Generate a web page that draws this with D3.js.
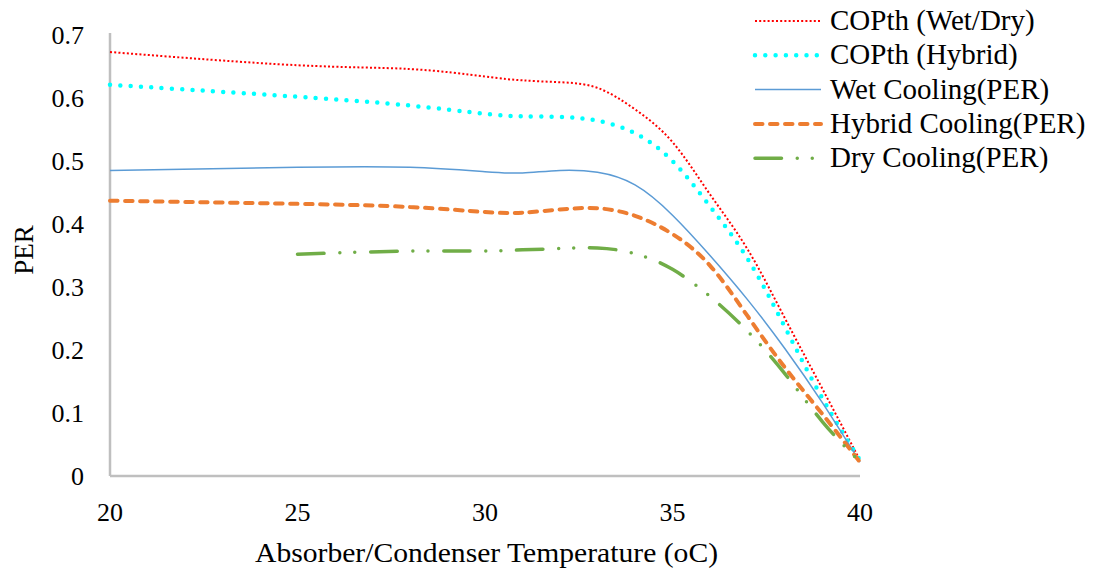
<!DOCTYPE html>
<html>
<head>
<meta charset="utf-8">
<script src="https://cdn.jsdelivr.net/npm/d3@7"></script>
<style>
  html, body { margin: 0; padding: 0; background: #fff; }
</style>
</head>
<body>
<svg id="chart" width="1100" height="569"></svg>
<script>
// Absorber/condenser temperature (°C)
const temps = [20, 25, 28, 30, 31, 32, 33, 34, 35, 36, 37, 38, 39, 40];

// Performance values per cooling configuration
const copWetDry   = [0.673, 0.652, 0.646, 0.634, 0.628, 0.625, 0.616, 0.582, 0.530, 0.447, 0.360, 0.250, 0.138, 0.025];
const copHybrid   = [0.621, 0.602, 0.588, 0.575, 0.571, 0.570, 0.564, 0.544, 0.500, 0.428, 0.345, 0.236, 0.123, 0.025];
const wetPER      = [0.485, 0.490, 0.490, 0.483, 0.481, 0.485, 0.482, 0.462, 0.414, 0.350, 0.280, 0.202, 0.116, 0.022];
const hybridPER   = [0.437, 0.432, 0.427, 0.419, 0.418, 0.423, 0.425, 0.413, 0.384, 0.334, 0.254, 0.172, 0.098, 0.022];
const dryPER      = [null,  0.352, 0.357, 0.357, 0.359, 0.361, 0.362, 0.353, 0.328, 0.285, 0.230, 0.162, 0.086, 0.022];

const seriesNames = ["COPth (Wet/Dry)", "COPth (Hybrid)", "Wet Cooling(PER)", "Hybrid Cooling(PER)", "Dry Cooling(PER)"];

const xTicks = [20, 25, 30, 35, 40];
const yTicks = [0, 0.1, 0.2, 0.3, 0.4, 0.5, 0.6, 0.7];

const series = [
  { name: seriesNames[0], values: copWetDry, color: "#ff0000", width: 2,   dash: "2 2.2",  cap: "butt" },
  { name: seriesNames[1], values: copHybrid, color: "#00ffff", width: 4.5, dash: "0 10.3", cap: "round" },
  { name: seriesNames[2], values: wetPER,    color: "#5b9bd5", width: 1.5, dash: null,     cap: "butt" },
  { name: seriesNames[3], values: hybridPER, color: "#ed7d31", width: 4,   dash: "7.5 7.5", cap: "round" },
  { name: seriesNames[4], values: dryPER,    color: "#70ad47", width: 3.5, dash: "26.5 15.75 0 15 0 15.75", cap: "round" }
];

const serif = '"Liberation Serif"';
const svg = d3.select("#chart").style("font-family", serif);

const x = d3.scaleLinear().domain([20, 40]).range([110, 860]);
const y = d3.scaleLinear().domain([0, 0.7]).range([476, 35]);

// Axis lines
svg.append("line")
  .attr("x1", x(20)).attr("x2", x(20))
  .attr("y1", y(0.7) - 2).attr("y2", y(0))
  .attr("stroke", "#bfbfbf").attr("stroke-width", 2.5);
svg.append("line")
  .attr("x1", x(20)).attr("x2", x(40))
  .attr("y1", y(0)).attr("y2", y(0))
  .attr("stroke", "#bfbfbf").attr("stroke-width", 2.5);

// Y tick labels
svg.append("g").selectAll("text")
  .data(yTicks).join("text")
  .style("font-family", serif)
  .attr("x", 84)
  .attr("y", d => y(d) + 9)
  .attr("text-anchor", "end")
  .attr("font-size", 26)
  .text(d => d3.format("")(d));

// X tick labels
svg.append("g").selectAll("text")
  .data(xTicks).join("text")
  .style("font-family", serif)
  .attr("x", d => x(d))
  .attr("y", 521)
  .attr("text-anchor", "middle")
  .attr("font-size", 26)
  .text(d => d);

// Axis titles
svg.append("text")
  .style("font-family", serif)
  .attr("x", 255).attr("y", 562)
  .attr("font-size", 28)
  .attr("textLength", 463)
  .attr("lengthAdjust", "spacingAndGlyphs")
  .text("Absorber/Condenser Temperature (oC)");

svg.append("text")
  .style("font-family", serif)
  .attr("transform", "translate(33, 250) rotate(-90)")
  .attr("text-anchor", "middle")
  .attr("font-size", 27)
  .text("PER");

// Curves
const line = d3.line()
  .defined(d => d[1] != null)
  .x(d => x(d[0]))
  .y(d => y(d[1]))
  .curve(d3.curveNatural);

svg.append("g").selectAll("path")
  .data(series).join("path")
  .attr("d", s => line(temps.map((t, i) => [t, s.values[i]])))
  .attr("fill", "none")
  .attr("stroke", s => s.color)
  .attr("stroke-width", s => s.width)
  .attr("stroke-linecap", s => s.cap)
  .attr("stroke-dasharray", s => s.dash);

// Legend
const legendRow = d3.scaleLinear().domain([0, 1]).range([21, 55.3]);
const legend = svg.append("g").selectAll("g")
  .data(series).join("g")
  .attr("transform", (s, i) => `translate(0, ${legendRow(i)})`);

legend.append("line")
  .attr("x1", 755).attr("x2", 821)
  .attr("y1", 0).attr("y2", 0)
  .attr("stroke", s => s.color)
  .attr("stroke-width", s => s.width)
  .attr("stroke-linecap", s => s.cap)
  .attr("stroke-dasharray", s => s.dash);

legend.append("text")
  .style("font-family", serif)
  .attr("x", 830)
  .attr("y", 9)
  .attr("font-size", 29)
  .text(s => s.name);
</script>
</body>
</html>
